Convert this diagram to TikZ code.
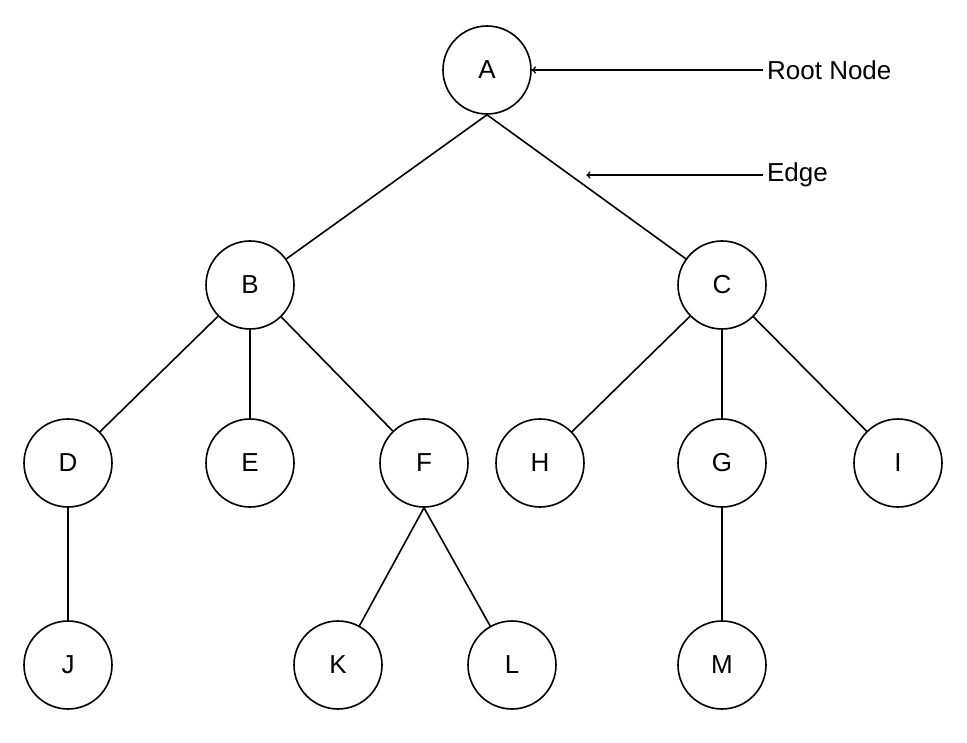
\documentclass[tikz,border=0pt]{standalone}
\usepackage{fontspec}
\setmainfont{Liberation Sans}
\usetikzlibrary{arrows,positioning}
\begin{document}
\begin{tikzpicture}[x=1pt,y=-1pt,line width=1.6pt,>=to,
  vertex/.style={circle,draw=black,fill=white,minimum size=88pt,inner sep=0pt,font=\fontsize{26}{30}\selectfont},
  note/.style={anchor=west,font=\fontsize{26}{30}\selectfont}]
  \useasboundingbox (0,0) rectangle (967,743);
  % tree
  \node[vertex] (A) at (487,70) {A};
  \node[vertex] (B) at (250,285) {B};
  \node[vertex] (C) at (722,285) {C};
  \node[vertex] (D) at (68,463) {D};
  \node[vertex] (E) at (250,463) {E};
  \node[vertex] (F) at (424,463) {F};
  \node[vertex] (H) at (540,463) {H};
  \node[vertex] (G) at (722,463) {G};
  \node[vertex] (I) at (898,463) {I};
  \node[vertex] (J) at (68,665) {J};
  \node[vertex] (K) at (338,665) {K};
  \node[vertex] (L) at (512,665) {L};
  \node[vertex] (M) at (722,665) {M};
  \draw (A.south) -- (B);
  \draw (A.south) -- coordinate[pos=0.5] (e) (C);
  \draw (B) -- (D);
  \draw (B) -- (E);
  \draw (B) -- (F);
  \draw (C) -- (H);
  \draw (C) -- (G);
  \draw (C) -- (I);
  \draw (D) -- (J);
  \draw (F.south) -- (K);
  \draw (F.south) -- (L);
  \draw (G) -- (M);
  % labels
  \node[note] (root) at (763,70) {Root Node};
  \node[note] (edge) at (763,175) {Edge};
  \draw[->] (root.west) -- (A.east);
  \draw[->] (edge.west) -- (edge.west -| e);
\end{tikzpicture}
\end{document}
